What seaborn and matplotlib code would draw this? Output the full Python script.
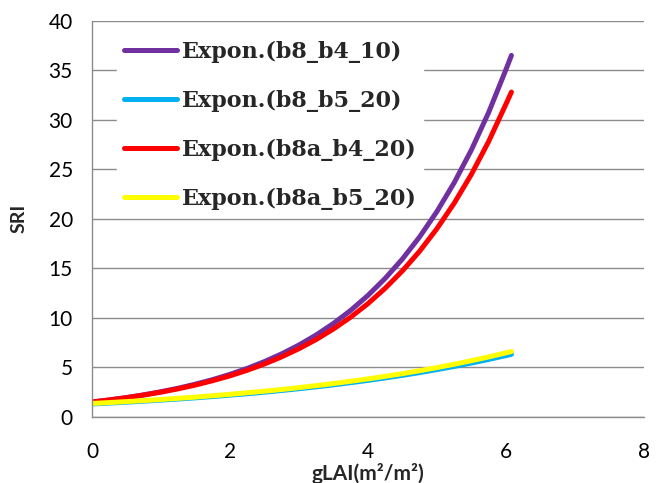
import numpy as np
import pandas as pd
import matplotlib
matplotlib.use("Agg")
import matplotlib.pyplot as plt
import seaborn as sns

# Data
x_vals = [0, 0.25, 0.5, 0.75, 1, 1.25, 1.5, 1.75, 2, 2.25, 2.5, 2.75, 3, 3.25,
          3.5, 3.75, 4, 4.25, 4.5, 4.75, 5, 5.25, 5.5, 5.75, 6, 6.08]
b8_b4_10 = [1.5, 1.71, 1.95, 2.22, 2.54, 2.89, 3.30, 3.76, 4.29, 4.89, 5.58, 6.36, 7.25,
            8.27, 9.43, 10.75, 12.26, 13.98, 15.94, 18.18, 20.73, 23.64, 26.96, 30.74,
            35.05, 36.5]
b8_b5_20 = [1.3, 1.39, 1.48, 1.58, 1.69, 1.80, 1.92, 2.05, 2.19, 2.33, 2.49, 2.66, 2.84,
            3.03, 3.23, 3.45, 3.68, 3.93, 4.19, 4.47, 4.77, 5.09, 5.43, 5.80, 6.18, 6.31]
b8a_b4_20 = [1.5, 1.70, 1.93, 2.20, 2.49, 2.83, 3.21, 3.65, 4.14, 4.70, 5.34, 6.06, 6.88,
             7.81, 8.87, 10.07, 11.43, 12.98, 14.74, 16.73, 19.0, 21.57, 24.49, 27.81,
             31.57, 32.8]
b8a_b5_20 = [1.35, 1.44, 1.54, 1.64, 1.75, 1.87, 1.99, 2.13, 2.27, 2.43, 2.59, 2.76, 2.95,
             3.15, 3.36, 3.59, 3.83, 4.09, 4.36, 4.66, 4.97, 5.31, 5.67, 6.05, 6.46, 6.6]

series_names = ["Expon.(b8_b4_10)", "Expon.(b8_b5_20)", "Expon.(b8a_b4_20)", "Expon.(b8a_b5_20)"]
series_vals = [b8_b4_10, b8_b5_20, b8a_b4_20, b8a_b5_20]
colors = ["#7030A0", "#00B0F0", "#FF0000", "#FFFF00"]

x_ticks = [0, 2, 4, 6, 8]
y_ticks = [0, 5, 10, 15, 20, 25, 30, 35, 40]

df = pd.DataFrame({
    "x": np.concatenate([x_vals] * 4),
    "y": np.concatenate(series_vals),
    "series": np.repeat(series_names, len(x_vals)),
})

sns.set_style("white")
plt.rcParams["font.family"] = ["Lato", "DejaVu Sans"]

fig = plt.figure(figsize=(6.57, 4.83), dpi=100)
ax = fig.add_axes([0.140, 0.137, 0.840, 0.820])

sns.lineplot(data=df, x="x", y="y", hue="series", hue_order=series_names,
             palette=dict(zip(series_names, colors)), linewidth=3.6,
             ax=ax, sort=False, estimator=None, legend=True)
for ln in ax.get_lines():
    ln.set_solid_capstyle("round")
    ln.set_solid_joinstyle("round")

ax.set_xlim(0, 8)
ax.set_ylim(0, 40)
ax.set_xticks(x_ticks)
ax.set_yticks(y_ticks)
ax.set_xticklabels([str(v) for v in x_ticks], fontsize=15)
ax.set_yticklabels([str(v) for v in y_ticks], fontsize=15)

grid_c = "#8c8c8c"
ax.yaxis.grid(True, color=grid_c, linewidth=1.0)
ax.xaxis.grid(False)
ax.set_axisbelow(True)
for s in ["top", "right"]:
    ax.spines[s].set_visible(False)
for s in ["left", "bottom"]:
    ax.spines[s].set_color(grid_c)
    ax.spines[s].set_linewidth(1.0)
ax.tick_params(axis="both", which="both", direction="out", length=5.8, width=1.0,
               color=grid_c, labelcolor="black")
ax.tick_params(axis="x", pad=12)
ax.tick_params(axis="y", pad=8)

ax.set_xlabel("gLAI(m²/m²)", fontsize=15, fontweight="bold", labelpad=1)
ax.set_ylabel("SRI", fontsize=14, fontweight="bold", labelpad=15)

leg = ax.legend(loc="upper left", bbox_to_anchor=(0.026, 0.995), frameon=True,
                prop={"family": "DejaVu Serif", "weight": "bold", "size": 16},
                handlelength=2.4, handletextpad=0.2, labelspacing=1.22,
                borderpad=0.3, fancybox=False)
leg.get_frame().set_edgecolor("white")
leg.get_frame().set_facecolor("white")
leg.get_frame().set_alpha(1.0)
for h in leg.get_lines():
    h.set_linewidth(3.6)
    h.set_solid_capstyle("round")

fig.savefig("out.png", dpi=100)
